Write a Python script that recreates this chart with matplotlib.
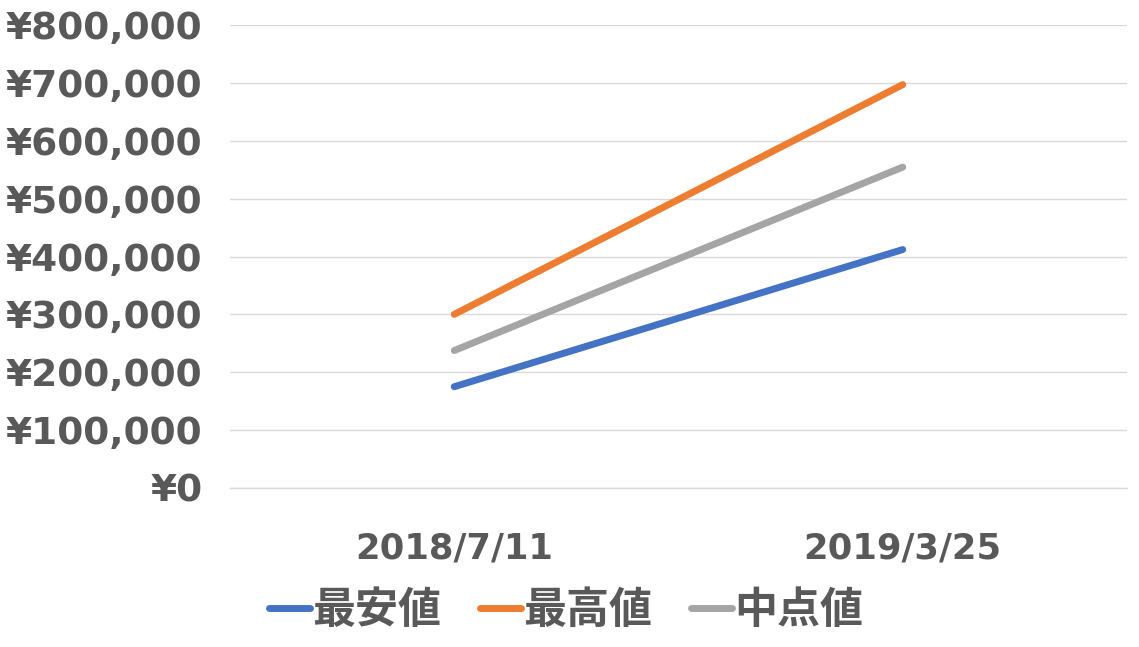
import matplotlib
matplotlib.use("Agg")
import matplotlib.pyplot as plt
import matplotlib.ticker as mticker

dates = ["2018/7/11", "2019/3/25"]
low = [175000, 412000]     # 最安値
high = [300000, 697000]    # 最高値
mid = [237500, 554500]     # 中点値
names = ["最安値", "最高値", "中点値"]
colors = ["#4472C4", "#ED7D31", "#A5A5A5"]

txt = "#595959"
fig = plt.figure(figsize=(11.39, 6.47), dpi=100)
ax = fig.add_axes([230 / 1139, (647 - 488) / 647, 897 / 1139, 463 / 647])

x = range(len(dates))
for ys, name, c in zip([low, high, mid], names, colors):
    ax.plot(x, ys, color=c, lw=5, solid_capstyle="round", label=name)

ax.set_xlim(-0.5, 1.5)
ax.set_ylim(0, 800000)
ax.set_yticks(range(0, 800001, 100000))
ax.yaxis.set_major_formatter(mticker.FuncFormatter(lambda v, p: "¥{:,.0f}".format(v)))
ax.set_xticks(list(x))
ax.set_xticklabels(dates)
ax.grid(axis="y", color="#d9d9d9", lw=1)
ax.axhline(0, color="#d9d9d9", lw=1, clip_on=False, zorder=0)
ax.set_axisbelow(True)
for s in ax.spines.values():
    s.set_visible(False)
ax.tick_params(length=0, colors=txt)
for lab in ax.get_yticklabels():
    lab.set_fontsize(27)
    lab.set_fontweight("bold")
    lab.set_family(["DejaVu Sans"])
for lab in ax.get_xticklabels():
    lab.set_fontsize(25.5)
    lab.set_fontweight("bold")
    lab.set_family(["DejaVu Sans"])
ax.tick_params(axis="y", pad=20)
ax.tick_params(axis="x", pad=31)

leg = fig.legend(loc="center", bbox_to_anchor=(566 / 1139, 1 - 610 / 647), ncol=3,
                 frameon=False, handlelength=0.95, handletextpad=0.05, columnspacing=0.9,
                 prop={"family": ["Noto Sans CJK JP", "DejaVu Sans"], "weight": "bold", "size": 31})
for t in leg.get_texts():
    t.set_color(txt)

fig.savefig("out.png", dpi=100)
